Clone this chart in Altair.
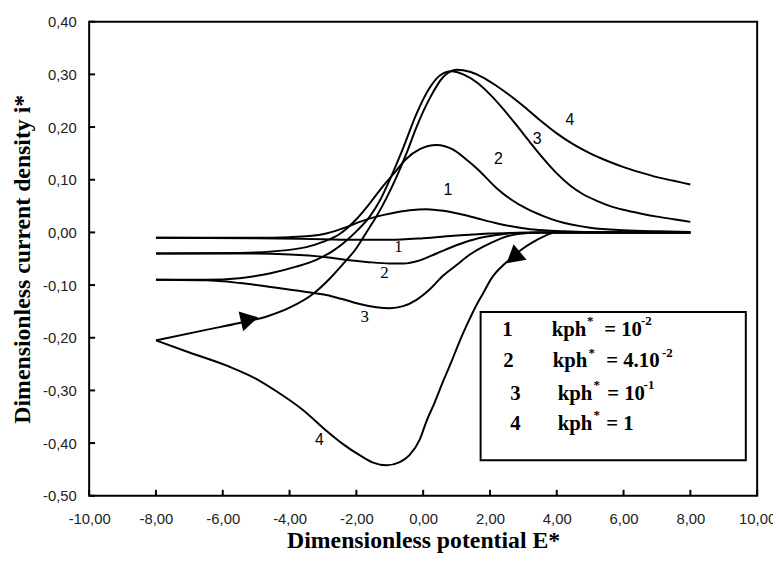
import altair as alt
import pandas as pd

# ---------------- data ----------------
# curve 1  (kph* = 1e-2)
c1_fwd_E = [-8, -5, -4, -3.4, -2.9, -2.3, -1.9, -1.4, -0.9, -0.4, 0.1, 0.6, 1.1, 1.6, 2.1, 2.6, 3.1, 3.6, 4.2, 5, 6, 8]
c1_fwd_i = [-0.010, -0.010, -0.009, -0.007, -0.002, 0.010, 0.020, 0.030, 0.037, 0.042, 0.044, 0.041, 0.035, 0.027,
            0.019, 0.012, 0.007, 0.004, 0.002, 0.0005, 0, 0]
c1_rev_E = [-8, -5, -3, -2, -1, 0, 1, 2, 3, 4, 8]
c1_rev_i = [-0.010, -0.011, -0.013, -0.014, -0.014, -0.011, -0.006, -0.002, -0.0005, 0, 0]

# curve 2  (kph* = 4e-2)
c2_fwd_E = [-8, -5.5, -4.5, -3.5, -3, -2.5, -2.0, -1.6, -1.2, -0.9, -0.5, -0.1, 0.4, 0.9, 1.3, 1.6, 2.2, 2.6, 3.1,
            3.6, 4.0, 5.0, 6.0, 7, 8]
c2_fwd_i = [-0.040, -0.039, -0.036, -0.028, -0.018, -0.003, 0.025, 0.055, 0.088, 0.110, 0.140, 0.158, 0.166, 0.157,
            0.138, 0.122, 0.084, 0.064, 0.045, 0.031, 0.022, 0.009, 0.004, 0.002, 0.001]
c2_rev_E = [-8, -5.5, -4, -2.9, -2.2, -1.7, -1.0, -0.6, -0.1, 0.4, 1.1, 1.6, 2.1, 2.7, 3.5, 8]
c2_rev_i = [-0.040, -0.040, -0.042, -0.047, -0.053, -0.056, -0.059, -0.059, -0.053, -0.040, -0.022, -0.012, -0.006,
            -0.001, 0, 0]

# curve 3  (kph* = 1e-1)
c3_fwd_E = [-8, -6.5, -5.5, -4.6, -3.8, -3.2, -2.7, -2.4, -2.0, -1.6, -1.3, -1.0, -0.6, -0.2, 0.2, 0.5, 0.85, 1.2,
            1.6, 2.0, 2.4, 2.8, 3.2, 3.6, 4.0, 4.4, 4.8, 5.2, 5.6, 6.0, 6.5, 7.0, 7.5, 8]
c3_fwd_i = [-0.090, -0.090, -0.087, -0.078, -0.065, -0.052, -0.035, -0.021, 0.002, 0.030, 0.060, 0.100, 0.160,
            0.225, 0.275, 0.298, 0.306, 0.300, 0.285, 0.262, 0.234, 0.203, 0.171, 0.140, 0.112, 0.089, 0.072, 0.060,
            0.050, 0.043, 0.036, 0.030, 0.025, 0.020]
c3_rev_E = [-8, -6.5, -5.5, -4.5, -3.5, -2.9, -2.4, -1.9, -1.4, -1.0, -0.6, -0.2, 0.2, 0.6, 1.0, 1.4, 1.8, 2.2, 2.6,
            3.0, 3.4, 8]
c3_rev_i = [-0.090, -0.091, -0.096, -0.104, -0.113, -0.119, -0.127, -0.136, -0.142, -0.144, -0.140, -0.128, -0.108,
            -0.082, -0.062, -0.042, -0.027, -0.015, -0.006, -0.002, 0, 0]

# curve 4  (kph* = 1)
c4_fwd_E = [-8, -6.5, -5.5, -4.7, -4.0, -3.3, -2.8, -2.4, -2.0, -1.7, -1.4, -1.1, -0.8, -0.5, -0.2, 0.2, 0.6, 1.0,
            1.4, 1.8, 2.2, 2.6, 3.0, 3.5, 4.0, 4.5, 5.0, 5.5, 6.0, 6.5, 7.0, 7.5, 8.0]
c4_fwd_i = [-0.205, -0.185, -0.172, -0.160, -0.143, -0.117, -0.088, -0.060, -0.030, 0.000, 0.030, 0.065, 0.105,
            0.150, 0.200, 0.255, 0.295, 0.309, 0.305, 0.294, 0.278, 0.260, 0.240, 0.213, 0.188, 0.167, 0.150, 0.136,
            0.124, 0.114, 0.105, 0.098, 0.091]
c4_rev_E = [-8, -7, -5.84, -5, -4.36, -3.6, -2.87, -2.4, -1.9, -1.5, -1.1, -0.7, -0.41, -0.1, 0.09, 0.35, 0.59, 0.85,
            1.07, 1.35, 1.57, 1.8, 2.07, 2.4, 2.67, 3.0, 3.3, 3.6, 3.95, 8]
c4_rev_i = [-0.205, -0.228, -0.254, -0.278, -0.303, -0.337, -0.378, -0.402, -0.423, -0.437, -0.442, -0.436, -0.423,
            -0.393, -0.360, -0.322, -0.284, -0.245, -0.210, -0.170, -0.141, -0.115, -0.085, -0.062, -0.047, -0.030,
            -0.018, -0.008, 0, 0]

# arrows on curve 4 (position, direction in degrees)
arrow_E = [-5.2, 2.7]
arrow_i = [-0.165, -0.048]
arrow_angle = [347, 140]

# curve labels
sans_label_text = ["4", "3", "2", "1", "4"]
sans_label_E = [4.39, 3.41, 2.25, 0.74, -3.11]
sans_label_i = [0.214, 0.178, 0.139, 0.080, -0.395]
serif_label_text = ["1", "2", "3"]
serif_label_E = [-0.74, -1.16, -1.75]
serif_label_i = [-0.028, -0.077, -0.160]

# legend
legend_num = ["1", "2", "3", "4"]
legend_row_i = [-0.185, -0.245, -0.307, -0.364]
legend_num_E = [2.52, 2.55, 2.76, 2.76]
legend_kph_E = [3.85, 3.88, 4.03, 4.03]
legend_star_E = [5.00, 5.05, 5.20, 5.20]
legend_eq_text = ["= 10", "= 4.10", "= 10", "= 1"]
legend_eq_E = [5.42, 5.48, 5.51, 5.48]
legend_exp_text = ["-2", "-2", "-1"]
legend_exp_E = [6.52, 7.15, 6.6]
legend_box = {"E1": 1.72, "E2": 9.66, "i1": -0.151, "i2": -0.4325}

x_ticks = [-10, -8, -6, -4, -2, 0, 2, 4, 6, 8, 10]
y_ticks = [-0.5, -0.4, -0.3, -0.2, -0.1, 0.0, 0.1, 0.2, 0.3, 0.4]

# ---------------- build tables ----------------
rows = []
for name, Es, Is in [("1f", c1_fwd_E, c1_fwd_i), ("1r", c1_rev_E, c1_rev_i),
                     ("2f", c2_fwd_E, c2_fwd_i), ("2r", c2_rev_E, c2_rev_i),
                     ("3f", c3_fwd_E, c3_fwd_i), ("3r", c3_rev_E, c3_rev_i),
                     ("4f", c4_fwd_E, c4_fwd_i), ("4r", c4_rev_E, c4_rev_i)]:
    for e, v in zip(Es, Is):
        rows.append({"key": name, "E": e, "i": v})
curves = pd.DataFrame(rows)

W, H = 675, 479
xs = alt.Scale(domain=[-10, 10], nice=False, zero=False)
ys = alt.Scale(domain=[-0.5, 0.4], nice=False, zero=False)
lab = "replace(replace(format(datum.value, '.2f'), '.', ','), '\u2212', '-')"

xa = alt.Axis(values=x_ticks, labelExpr=lab, title="Dimensionless potential E*",
              titleFont="Liberation Serif", titleFontSize=24, titleFontWeight="bold", titleColor="black",
              labelFont="Liberation Sans", labelFontSize=15, labelColor="#222", labelPadding=16,
              titlePadding=2, domain=False, ticks=False, grid=False, labelFlush=False, labelOverlap=False)
ya = alt.Axis(values=y_ticks, labelExpr=lab, title="Dimensionless current density i*",
              titleFont="Liberation Serif", titleFontSize=24, titleFontWeight="bold", titleColor="black",
              labelFont="Liberation Sans", labelFontSize=15, labelColor="#222", labelPadding=13,
              titlePadding=8, domain=False, ticks=False, grid=False, labelOverlap=False)


def X(f="E"):
    return alt.X(f"{f}:Q", scale=xs, axis=xa)


def Y(f="i"):
    return alt.Y(f"{f}:Q", scale=ys, axis=ya)


lines = alt.Chart(curves).mark_line(color="black", strokeWidth=2, interpolate="monotone").encode(
    x=X(), y=Y(), detail="key:N")

xt = alt.Chart(pd.DataFrame({"E": x_ticks})).mark_rule(color="black", strokeWidth=2).encode(
    x=X(), y=alt.value(H), y2=alt.value(H - 6))
yt = alt.Chart(pd.DataFrame({"i": y_ticks})).mark_rule(color="black", strokeWidth=2).encode(
    y=Y(), x=alt.value(0), x2=alt.value(6))

arrows = alt.Chart(pd.DataFrame({"E": arrow_E, "i": arrow_i, "a": arrow_angle})).mark_point(
    shape="triangle-right", filled=True, color="black", opacity=1, size=420).encode(
    x=X(), y=Y(), angle=alt.Angle("a:Q", scale=None))

sans_lbl = alt.Chart(pd.DataFrame({"E": sans_label_E, "i": sans_label_i, "t": sans_label_text})).mark_text(
    font="Liberation Sans", fontSize=16, color="black").encode(x=X(), y=Y(), text="t:N")
serif_lbl = alt.Chart(pd.DataFrame({"E": serif_label_E, "i": serif_label_i, "t": serif_label_text})).mark_text(
    font="Liberation Serif", fontSize=17, color="black").encode(x=X(), y=Y(), text="t:N")

box = alt.Chart(pd.DataFrame([legend_box])).mark_rect(fill="white", stroke="black", strokeWidth=2).encode(
    x=X("E1"), x2="E2:Q", y=Y("i1"), y2="i2:Q")

lf = dict(font="Liberation Serif", fontWeight="bold", color="black")
l_num = alt.Chart(pd.DataFrame({"E": legend_num_E, "i": legend_row_i, "t": legend_num})).mark_text(
    fontSize=21, align="center", **lf).encode(x=X(), y=Y(), text="t:N")
l_kph = alt.Chart(pd.DataFrame({"E": legend_kph_E, "i": legend_row_i, "t": ["kph"] * 4})).mark_text(
    fontSize=21, align="left", **lf).encode(x=X(), y=Y(), text="t:N")
l_star = alt.Chart(pd.DataFrame({"E": legend_star_E, "i": legend_row_i, "t": ["*"] * 4})).mark_text(
    fontSize=13, align="center", dy=-9, **lf).encode(x=X(), y=Y(), text="t:N")
l_eq = alt.Chart(pd.DataFrame({"E": legend_eq_E, "i": legend_row_i, "t": legend_eq_text})).mark_text(
    fontSize=21, align="left", **lf).encode(x=X(), y=Y(), text="t:N")
l_exp = alt.Chart(pd.DataFrame({"E": legend_exp_E, "i": legend_row_i[:3], "t": legend_exp_text})).mark_text(
    fontSize=13, align="left", dy=-9, **lf).encode(x=X(), y=Y(), text="t:N")

chart = alt.layer(lines, xt, yt, arrows, sans_lbl, serif_lbl, box, l_num, l_kph, l_star, l_eq, l_exp).properties(
    width=W, height=H, autosize="none",
    padding={"left": 82, "top": 11, "right": 16, "bottom": 58},
    background="white",
).configure_view(stroke="black", strokeWidth=2)

chart.save("out.html", embed_options={"renderer": "svg", "actions": False})
